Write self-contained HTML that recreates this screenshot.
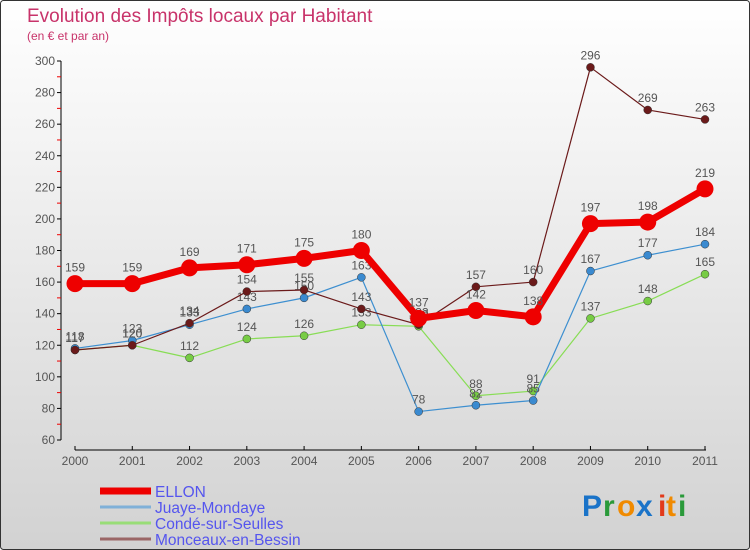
<!DOCTYPE html>
<html><head><meta charset="utf-8"><style>
body{margin:0;}
#wrap{width:750px;height:550px;position:relative;overflow:hidden;}
svg text{font-family:"Liberation Sans",sans-serif;}
</style></head><body>
<div id="wrap">
<svg id="chart" width="750" height="550" xmlns="http://www.w3.org/2000/svg">
<defs><linearGradient id="bg" x1="0" y1="0" x2="0" y2="1"><stop offset="0" stop-color="#ffffff"/><stop offset="1" stop-color="#d2d2d2"/></linearGradient></defs>
<rect x="0.5" y="0.5" width="749" height="549" rx="3" fill="url(#bg)" stroke="#333"/>
<text x="27" y="22" font-size="19" fill="#c8336a">Evolution des Impôts locaux par Habitant</text>
<text x="27" y="40" font-size="12" fill="#c8336a">(en € et par an)</text>
<g id="axes"></g><g id="series"></g><g id="legend"></g>
<g font-size="30" font-weight="bold">
<text x="582" y="516" fill="#1a73c8">P</text><text x="603" y="516" fill="#2a9a3a">r</text><text x="617" y="516" fill="#f08a00">o</text><text x="636" y="516" fill="#1a73c8">x</text><text x="658" y="516" fill="#e23a1a">i</text><text x="666" y="516" fill="#f08a00">t</text><text x="678" y="516" fill="#2a9a3a">i</text>
</g>
</svg></div>
<script>
const years=[2000,2001,2002,2003,2004,2005,2006,2007,2008,2009,2010,2011];
const ellon=[159,159,169,171,175,180,137,142,138,197,198,219];
const juaye=[118,123,133,143,150,163,78,82,85,167,177,184];
const conde=[117,120,112,124,126,133,132,88,91,137,148,165];
const monceaux=[117,120,134,154,155,143,133,157,160,296,269,263];
const yTicks=[60,80,100,120,140,160,180,200,220,240,260,280,300];
const names=["ELLON","Juaye-Mondaye","Condé-sur-Seulles","Monceaux-en-Bessin"];
const NS="http://www.w3.org/2000/svg";
const x=i=>75+i*(630/11);
const y=v=>440-(v-60)*(379/240);
function mk(p,tag,at){const e=document.createElementNS(NS,tag);for(const k in at)e.setAttribute(k,at[k]);p.appendChild(e);return e;}
const axes=document.getElementById('axes');
let a=mk(axes,'line',{x1:61,y1:y(300),x2:61,y2:y(60),stroke:'#000'});


yTicks.forEach(v=>{
 mk(axes,'line',{x1:57,y1:y(v),x2:61,y2:y(v),stroke:'#000'});
 if(v<300){mk(axes,'line',{x1:57,y1:y(v+10),x2:61,y2:y(v+10),stroke:'#e00'});}
 const t=mk(axes,'text',{x:55,y:y(v)+4,'font-size':12,'text-anchor':'end',fill:'#555'});
 t.textContent=v;
 
 
});
const xa=mk(axes,'line',{x1:75,y1:450,x2:706,y2:450,stroke:'#000'});


years.forEach((yr,i)=>{
 mk(axes,'line',{x1:x(i),y1:446,x2:x(i),y2:450,stroke:'#000'});
 const t=mk(axes,'text',{x:x(i),y:465,'font-size':12,'text-anchor':'middle',fill:'#555'});
 t.textContent=yr;
 
 
});
const ser=document.getElementById('series');
const defs=[[conde,'#88dd55',1.2,4,'conde'],[juaye,'#3d8fd0',1.2,4,'juaye'],[monceaux,'#6b1a1a',1.2,4,'monceaux'],[ellon,'#ee0000',7,8.5,'ellon']];
const dot={monceaux:'#6b1a1a',conde:'#77cc44',juaye:'#3a8ad0',ellon:'#ee0000'};
defs.forEach(([d,c,w,r,n])=>{
 const g=mk(ser,'g',{});
 
 
 const p=mk(g,'polyline',{points:d.map((v,i)=>x(i)+','+y(v)).join(' '),fill:'none',stroke:c,'stroke-width':w,'stroke-linejoin':'round'});
 
 
 d.forEach((v,i)=>{
  const ci=mk(g,'circle',{cx:x(i),cy:y(v),r:r,fill:dot[n],stroke:n=='ellon'?'none':'#333','stroke-width':0.5});
  
  
  const t=mk(g,'text',{x:x(i),y:y(v)-(n=='ellon'?12:8),'font-size':12,'text-anchor':'middle',fill:'#555'});
  t.textContent=v;
  
  
 });
});
const lg=document.getElementById('legend');
const lc=[['#ee0000',7],['#7fb0d8',3],['#99dd77',3],['#9b6666',3]];
names.forEach((nm,i)=>{
 const yy=491+i*16;
 const l=mk(lg,'line',{x1:100,y1:yy,x2:151,y2:yy,stroke:lc[i][0],'stroke-width':lc[i][1]});
 
 
 const t=mk(lg,'text',{x:155,y:yy+6,'font-size':15.5,fill:'#5555ee'});
 t.textContent=nm;
 
 
});
</script>
</body></html>
